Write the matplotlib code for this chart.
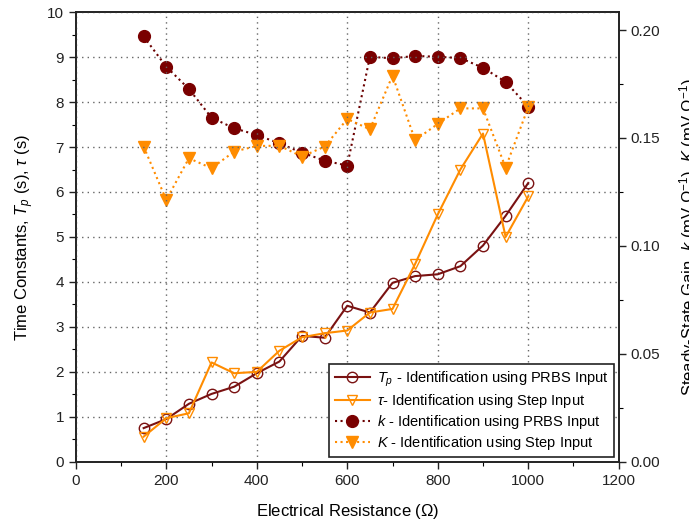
import numpy as np
import matplotlib
matplotlib.use('Agg')
import matplotlib.pyplot as plt
from matplotlib.ticker import MultipleLocator

plt.rcParams['font.family'] = ['Liberation Sans', 'DejaVu Sans']
plt.rcParams['mathtext.fontset'] = 'custom'
plt.rcParams['mathtext.it'] = 'Liberation Sans:italic'
plt.rcParams['mathtext.rm'] = 'Liberation Sans'

# Resistencia (Ohm)
resistencia = [150, 200, 250, 300, 350, 400, 450, 500, 550, 600,
               650, 700, 750, 800, 850, 900, 950, 1000]

# Constantes de tiempo (s)
Tp_prbs = [0.75, 0.95, 1.29, 1.51, 1.67, 1.97, 2.23, 2.80, 2.76, 3.47,
           3.32, 3.98, 4.13, 4.17, 4.35, 4.81, 5.47, 6.20]
tau_step = [0.56, 0.97, 1.08, 2.21, 1.97, 2.00, 2.47, 2.77, 2.86, 2.92,
            3.32, 3.40, 4.40, 5.50, 6.50, 7.30, 5.00, 5.90]

# Ganancias (mV/Ohm)
k_prbs = [0.197, 0.183, 0.1727, 0.1594, 0.1545, 0.1514, 0.1475, 0.1432, 0.1395, 0.1372,
          0.1876, 0.1869, 0.188, 0.1876, 0.187, 0.1825, 0.176, 0.1645]
K_step = [0.146, 0.1213, 0.1406, 0.136, 0.1437, 0.1463, 0.1464, 0.1414, 0.146, 0.1588,
          0.154, 0.1789, 0.149, 0.1565, 0.1637, 0.1637, 0.1363, 0.1642]

granate = '#7a1212'
naranja = '#ff8c00'

fig = plt.figure(figsize=(6.89, 5.26), dpi=100)
ax = fig.add_axes([0.110, 0.122, 0.788, 0.855])
ax2 = ax.twinx()

l1, = ax.plot(resistencia, Tp_prbs, '-o', color=granate, lw=1.5, ms=7.5,
              mfc='none', mec=granate, mew=1.0)
l2, = ax.plot(resistencia, tau_step, '-v', color=naranja, lw=1.5, ms=7.5,
              mfc='none', mec=naranja, mew=1.0)
l3, = ax2.plot(resistencia, k_prbs, ':o', color='#6b0000', lw=1.5, ms=8.5,
               mfc='#7a0000', mec='#7a0000')
l4, = ax2.plot(resistencia, K_step, ':v', color=naranja, lw=1.5, ms=8.5,
               mfc=naranja, mec=naranja)

ax.set_xlim(0, 1200)
ax.set_ylim(0, 10)
ax2.set_ylim(0, 0.2083)

ax.xaxis.set_major_locator(MultipleLocator(200))
ax.xaxis.set_minor_locator(MultipleLocator(100))
ax.yaxis.set_major_locator(MultipleLocator(1))
ax.yaxis.set_minor_locator(MultipleLocator(0.5))
ax2.yaxis.set_major_locator(MultipleLocator(0.05))
ax2.yaxis.set_minor_locator(MultipleLocator(0.025))
ax2.yaxis.set_major_formatter(matplotlib.ticker.FormatStrFormatter('%.2f'))

ax.grid(True, which='major', ls=(0, (1, 3)), color='#666666', lw=1.0)
ax.set_axisbelow(True)

for a in (ax, ax2):
    a.tick_params(which='major', direction='out', length=5, width=1.0, labelsize=11, colors='#222222')
    a.tick_params(which='minor', direction='out', length=3, width=0.8)
    for s in a.spines.values():
        s.set_linewidth(1.2)
        s.set_color('#222222')

ax.set_xlabel('Electrical Resistance ($\\Omega$)', fontsize=12, labelpad=10)
ax.set_ylabel('Time Constants, $T_p$ (s), $\\tau$ (s)', fontsize=12, labelpad=8)
ax2.set_ylabel('Steady-State Gain, $k$ (mV $\\Omega^{-1}$), $K$ (mV $\\Omega^{-1}$)',
               fontsize=12, labelpad=12)

leg = ax.legend([l1, l2, l3, l4],
                ['$T_p$ - Identification using PRBS Input',
                 '$\\tau$- Identification using Step Input',
                 '$k$ - Identification using PRBS Input',
                 '$K$ - Identification using Step Input'],
                loc='lower right', fontsize=10.5, frameon=True, fancybox=False,
                edgecolor='#222222', framealpha=1, handlelength=2.4,
                handletextpad=0.5, borderaxespad=0.3, labelspacing=0.2)
leg.get_frame().set_linewidth(1.2)
leg.set_zorder(5)
ax.set_zorder(ax2.get_zorder() + 1)
ax.patch.set_visible(False)

fig.savefig('out.png', dpi=100)
